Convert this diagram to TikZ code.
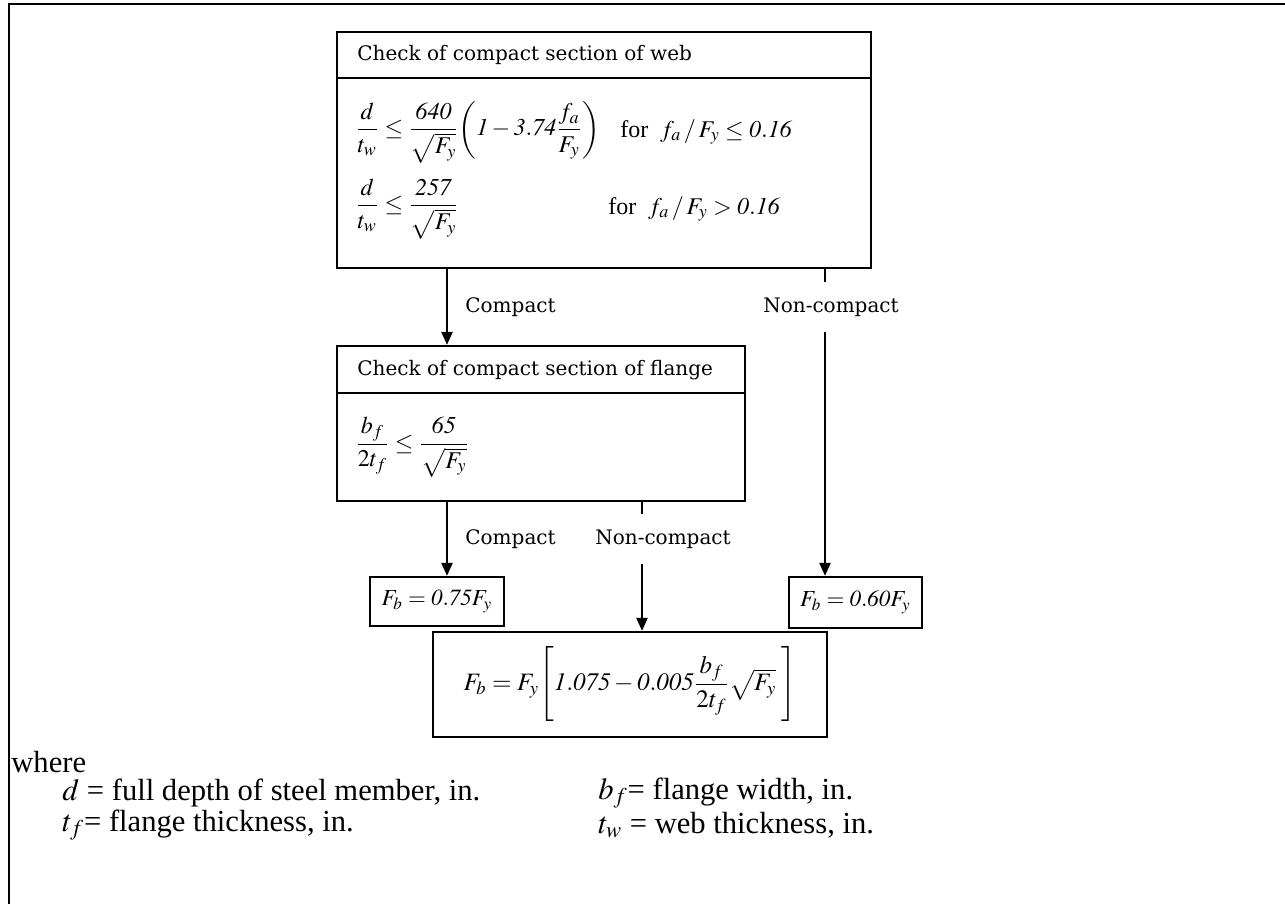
\documentclass[tikz,border=0pt]{standalone}
\usepackage{amsmath}
\usepackage{mathptmx}
\usepackage{fontspec}
\setmainfont{Liberation Serif}
\newfontfamily\labfont{DejaVu Serif}
\usetikzlibrary{fit,arrows.meta}

\begin{document}
\begin{tikzpicture}[x=0.5pt,y=-0.5pt,
    box/.style={draw,line width=1.1pt,inner sep=0pt},
    ln/.style={line width=1.1pt},
    arr/.style={line width=1.1pt,-{Triangle[length=6.5pt,width=5.5pt]}},
    hd/.style={anchor=west,inner sep=0pt,font=\labfont\fontsize{10}{12}\selectfont},
    lab/.style={inner xsep=2pt,inner ysep=7.5pt,font=\labfont\fontsize{10}{12}\selectfont},
    eq/.style={anchor=west,inner sep=0pt,font=\fontsize{12}{14}\selectfont},
    res/.style={box,font=\fontsize{11.5}{14}\selectfont},
    txt/.style={anchor=west,inner sep=0pt,font=\fontsize{15.3}{18}\selectfont}]
  \useasboundingbox (0,0) rectangle (1285,904);
  % outer frame (top and left only)
  \draw[line width=1.2pt] (1285,4) -- (9,4) -- (9,904);

  % check of the web
  \node[box,fit={(337,32) (871,268)}] (web) {};
  \draw[ln] (web.west |- 0,78) -- (web.east |- 0,78);
  \node[hd] (webhd) at (357,55) {Check of compact section of web};
  \node[eq] (webeq1) at (355,132) {$\dfrac{d}{t_w}\le\dfrac{\mathit{640}}{\sqrt{F_y}}\!\left(\mathit{1}-\mathit{3.74}\dfrac{f_a}{F_y}\right)$};
  \node[eq] (webcn1) at (620,132) {for\ \ $f_a\,/\,F_y\le\mathit{0.16}$};
  \node[eq] (webeq2) at (355,209) {$\dfrac{d}{t_w}\le\dfrac{\mathit{257}}{\sqrt{F_y}}$};
  \node[eq] (webcn2) at (608,209) {for\ \ $f_a\,/\,F_y>\mathit{0.16}$};

  % check of the flange
  \node[box,fit={(337,346) (745,501)}] (flange) {};
  \draw[ln] (flange.west |- 0,393) -- (flange.east |- 0,393);
  \node[hd] (flghd) at (357,370) {Check of compact section of flange};
  \node[eq] (flgeq) at (355,447) {$\dfrac{b_f}{2t_f}\le\dfrac{\mathit{65}}{\sqrt{F_y}}$};

  % allowable stresses
  \node[res,minimum width=67pt,minimum height=24.5pt] (fbc) at (437,601.5) {$F_b=\mathit{0.75}F_y$};
  \node[res,minimum width=66.5pt,minimum height=25.5pt] (fbr) at (855.5,602.5) {$F_b=\mathit{0.60}F_y$};
  \node[res,minimum width=197pt,minimum height=52.5pt,font=\fontsize{12.5}{15}\selectfont] (fbn) at (630,684.5) {$F_b=F_y\Biggl[\mathit{1.075}-\mathit{0.005}\dfrac{b_f}{2t_f}\sqrt{F_y}\;\Biggr]$};

  % connectors
  \coordinate (xa) at (447,0);
  \coordinate (xb) at (825,0);
  \coordinate (xc) at (642,0);
  \node[lab,anchor=west] (cmp1) at (461,307) {Compact};
  \node[lab] (ncp1) at (831,307) {Non-compact};
  \draw[arr] (web.south -| xa) -- (flange.north -| xa);
  \draw[ln] (web.south -| xb) -- (ncp1.north -| xb);
  \draw[arr] (ncp1.south -| xb) -- (fbr.north -| xb);

  \node[lab,anchor=west] (cmp2) at (461,539) {Compact};
  \node[lab] (ncp2) at (663,539) {Non-compact};
  \draw[arr] (flange.south -| xa) -- (fbc.north -| xa);
  \draw[ln] (flange.south -| xc) -- (ncp2.north -| xc);
  \draw[arr] (ncp2.south -| xc) -- (fbn.north -| xc);

  % notation
  \node[txt] (where) at (11,762) {where};
  \node[txt] (defd) at (62,793) {$d$ = full depth of steel member, in.};
  \node[txt] (defbf) at (598,793) {$b_f$= flange width, in.};
  \node[txt] (deftf) at (62,825) {$t_f$= flange thickness, in.};
  \node[txt] (deftw) at (598,825) {$t_w$ = web thickness, in.};
\end{tikzpicture}
\end{document}
